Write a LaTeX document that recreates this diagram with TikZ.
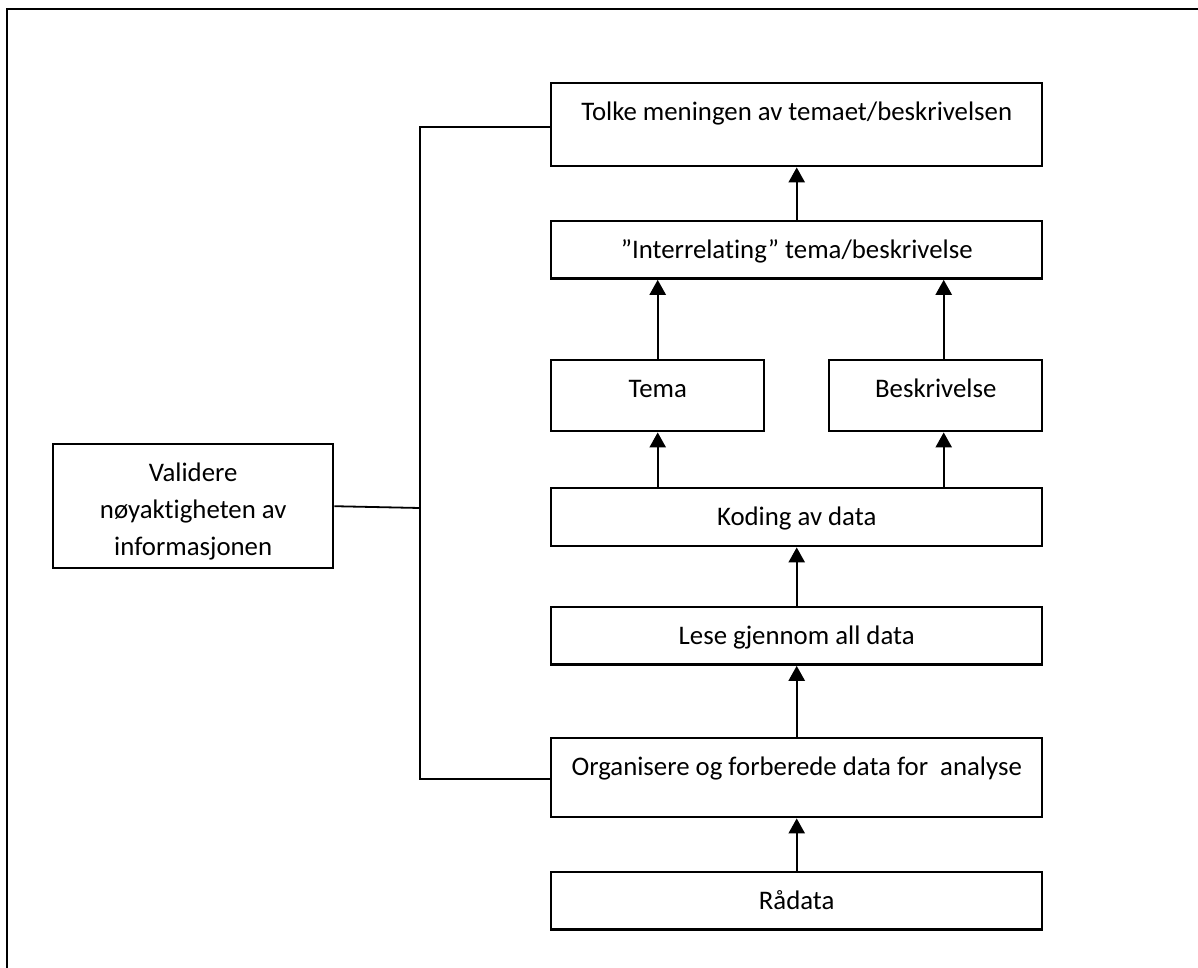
\documentclass[tikz,border=0pt]{standalone}
\usepackage{fontspec}
\setmainfont[Ligatures=NoCommon]{Carlito}
\usepackage{tikz}
\tikzstyle{box} = [rectangle, draw = black, line width=1.2pt, anchor=north west, inner xsep=0pt, inner ysep=10pt, text height=8.6pt, minimum width=245.5pt, align=center]
\tikzstyle{arrow} = [-{Triangle[width=8pt,length=7.5pt]}, line width=1.2pt]
\tikzstyle{link} = [line width=0.9pt]
\usetikzlibrary{arrows.meta}

\begin{document}
\begin{tikzpicture}[x=0.5pt, y=-0.5pt, font=\fontsize{13.4}{18.5}\selectfont]
          \useasboundingbox (0,0) rectangle (1198,968);
          \draw[line width=1.2pt] (7,9) rectangle (1260,1020);

          \node[box, text depth=12.9pt] (tolke) at (550,82) {Tolke meningen av temaet/beskrivelsen};
          \node[box, text depth=0.1pt] (inter) at (550,220) {”Interrelating” tema/beskrivelse};
          \node[box, minimum width=106.5pt, text depth=6.9pt] (tema) at (550,359) {Tema};
          \node[box, minimum width=106.5pt, text depth=6.9pt] (beskr) at (828,359) {Beskrivelse};
          \node[box, text depth=0.4pt] (koding) at (550,487) {Koding av data};
          \node[box, text depth=0.1pt] (lese) at (550,606) {Lese gjennom all data};
          \node[box, text depth=10.9pt] (organ) at (550,737) {Organisere og forberede data for\ \ analyse};
          \node[box, text depth=0.1pt] (raa) at (550,871) {Rådata};
          \node[box, minimum width=140pt, inner ysep=0pt, text height=55.6pt, text depth=6.4pt] (valid) at (52,443) {Validere\\nøyaktigheten av\\informasjonen};

          \draw[arrow](raa.north) -- (organ.south);
          \draw[arrow](organ.north) -- (lese.south);
          \draw[arrow](lese.north) -- (koding.south);
          \draw[arrow](tema.south |- koding.north) -- (tema.south);
          \draw[arrow]([xshift=4pt]beskr.south |- koding.north) -- ([xshift=4pt]beskr.south);
          \draw[arrow](tema.north) -- (tema.north |- inter.south);
          \draw[arrow]([xshift=4pt]beskr.north) -- ([xshift=4pt]beskr.north |- inter.south);
          \draw[arrow](inter.north) -- (tolke.south);

          \coordinate (top) at (420,127);
          \coordinate (mid) at (420,508);
          \coordinate (bot) at (420,779);
          \draw[link](tolke.west |- top) -- (top) -- (bot) -- (organ.west |- bot);
          \draw[link](valid.east) -- (mid);
        \end{tikzpicture}
\end{document}
